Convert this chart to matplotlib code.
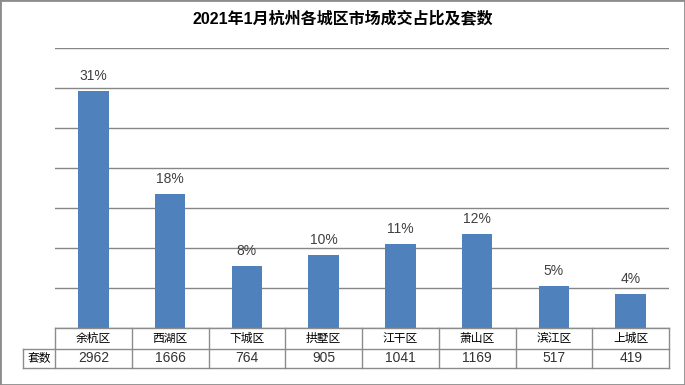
import matplotlib
matplotlib.use('Agg')
import matplotlib.pyplot as plt
from matplotlib.lines import Line2D
from matplotlib.patches import Rectangle

title = '2021年1月杭州各城区市场成交占比及套数'
districts = ['余杭区', '西湖区', '下城区', '拱墅区', '江干区', '萧山区', '滨江区', '上城区']
counts = [2962, 1666, 764, 905, 1041, 1169, 517, 419]
shares = ['31%', '18%', '8%', '10%', '11%', '12%', '5%', '4%']
row_label = '套数'

CJK = ['Noto Sans CJK SC', 'DejaVu Sans']
NUM = ['Liberation Sans', 'Noto Sans CJK SC', 'DejaVu Sans']

W, H = 685, 385
fig = plt.figure(figsize=(W / 100, H / 100), dpi=100)
fig.patch.set_facecolor('white')


def px(x0, y0, x1, y1):
    return [x0 / W, 1 - y1 / H, (x1 - x0) / W, (y1 - y0) / H]


ax_left, ax_top, ax_right, ax_bot = 55, 48, 669, 327.5
ax = fig.add_axes(px(ax_left, ax_top, ax_right, ax_bot))
n = len(districts)
xs = list(range(n))
bars = ax.bar(xs, counts, width=0.4, color='#4F81BD', zorder=3)
ax.set_xlim(-0.5, n - 0.5)
ax.set_ylim(0, 3500)
ax.set_yticks(range(0, 3501, 500))
ax.yaxis.grid(True, color='#868686', lw=1)
ax.set_axisbelow(True)
ax.tick_params(left=False, bottom=False, labelleft=False, labelbottom=False)
for s in ax.spines.values():
    s.set_visible(False)

for b, s in zip(bars, shares):
    ax.annotate(s, (b.get_x() + b.get_width() / 2, b.get_height()),
                xytext=(0, 6), textcoords='offset points', ha='center', va='bottom',
                fontsize=10, family=NUM, color='#404040')

# data table below the axis
ah = ax_bot - ax_top
aw = ax_right - ax_left
r1 = -(349 - ax_bot) / ah
r2 = -(368 - ax_bot) / ah
xl = -0.5 - (ax_left - 23) / aw * n
tr = ax.get_xaxis_transform()
lc = '#8c8c8c'


def line(xa, ya):
    ax.add_line(Line2D(xa, ya, transform=tr, color=lc, lw=1, clip_on=False, zorder=4))


line([-0.5, n - 0.5], [0, 0])
line([xl, n - 0.5], [r1, r1])
line([xl, n - 0.5], [r2, r2])
for i in range(n + 1):
    line([i - 0.5, i - 0.5], [r2, 0])
line([xl, xl], [r2, r1])

for i, (d, c) in enumerate(zip(districts, counts)):
    ax.text(i, r1 / 2, d, transform=tr, ha='center', va='center',
            fontsize=8.5, family=CJK, color='black', clip_on=False)
    ax.text(i, (r1 + r2) / 2, str(c), transform=tr, ha='center', va='center',
            fontsize=10, family=NUM, color='#333333', clip_on=False)
ax.text((xl - 0.5) / 2, (r1 + r2) / 2, row_label, transform=tr, ha='center', va='center',
        fontsize=8.5, family=CJK, color='black', clip_on=False)

fig.text(0.5, 1 - 18 / H, title, ha='center', va='center', fontsize=11.5,
         fontweight='bold', family=NUM, color='black')

fig.patches.append(Rectangle((0, 0), 1, 1, transform=fig.transFigure, fill=False,
                             edgecolor='#8c8c8c', lw=2))

fig.savefig('out.png', dpi=100)
